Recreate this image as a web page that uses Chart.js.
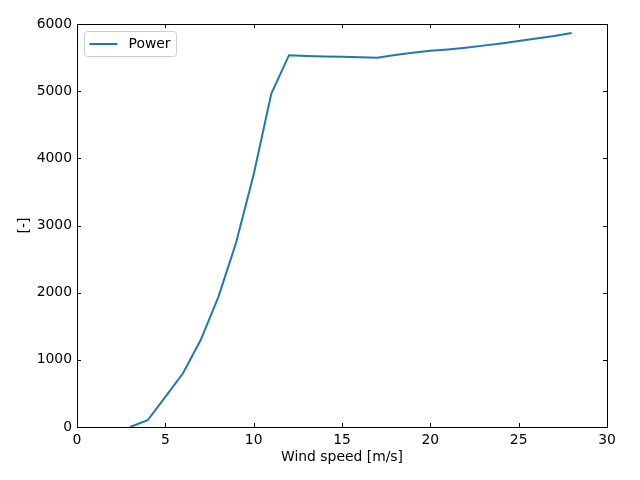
<!DOCTYPE html>
<html>
<head>
<meta charset="utf-8">
<script src="https://cdn.jsdelivr.net/npm/chart.js@4/dist/chart.umd.min.js"></script>
<style>
  html, body { margin: 0; padding: 0; background: #fff; }
  #wrap { width: 640px; height: 480px; }
</style>
</head>
<body>
<div id="wrap"><canvas id="grafico" width="640" height="480"></canvas></div>
<script>
const windSpeed = [3, 4, 5, 6, 7, 8, 9, 10, 11, 12, 13, 14, 15, 16, 17, 18, 19, 20, 21, 22, 23, 24, 25, 26, 27, 28];
const power = [0, 100, 450, 800, 1295, 1935, 2740, 3760, 4965, 5536, 5525, 5517, 5511, 5504, 5497, 5538, 5573, 5600, 5622, 5648, 5678, 5710, 5746, 5783, 5821, 5865];
const xTicks = [0, 5, 10, 15, 20, 25, 30];
const yTicks = [0, 1000, 2000, 3000, 4000, 5000, 6000];
const seriesName = 'Power';

const FONT = 'DejaVu Sans';
const BLUE = '#1f77b4';

// spines + inward ticks on every side, like matplotlib
const frame = {
  id: 'frame',
  afterDraw(chart) {
    const { ctx, chartArea: a, scales } = chart;
    ctx.save();
    ctx.strokeStyle = '#000';
    ctx.lineWidth = 1;
    ctx.beginPath();
    xTicks.forEach(v => {
      const px = Math.round(scales.x.getPixelForValue(v)) + 0.5;
      ctx.moveTo(px, a.bottom); ctx.lineTo(px, a.bottom - 4);
      ctx.moveTo(px, a.top); ctx.lineTo(px, a.top + 4);
    });
    yTicks.forEach(v => {
      const py = Math.round(scales.y.getPixelForValue(v)) + 0.5;
      ctx.moveTo(a.left, py); ctx.lineTo(a.left + 4, py);
      ctx.moveTo(a.right, py); ctx.lineTo(a.right - 4, py);
    });
    ctx.stroke();
    ctx.strokeRect(Math.round(a.left) + 0.5, Math.round(a.top) + 0.5,
      Math.round(a.right - a.left), Math.round(a.bottom - a.top));

    // legend box in the upper left
    const bx = a.left + 7.5, by = a.top + 7.5, bw = 92, bh = 25;
    ctx.fillStyle = 'rgba(255,255,255,0.8)';
    ctx.strokeStyle = '#cccccc';
    ctx.beginPath();
    ctx.roundRect(bx, by, bw, bh, 3);
    ctx.fill();
    ctx.stroke();
    ctx.strokeStyle = BLUE;
    ctx.lineWidth = 2;
    ctx.beginPath();
    ctx.moveTo(bx + 5, by + 12.5);
    ctx.lineTo(bx + 33, by + 12.5);
    ctx.stroke();
    ctx.fillStyle = '#000';
    ctx.font = '13.9px "' + FONT + '"';
    ctx.textBaseline = 'middle';
    ctx.fillText(seriesName, bx + 44, by + 13);
    ctx.restore();
  }
};

const plain = v => String(v);

new Chart(document.getElementById('grafico'), {
  type: 'scatter',
  data: {
    datasets: [{
      label: seriesName,
      data: windSpeed.map((w, i) => ({ x: w, y: power[i] })),
      showLine: true,
      borderColor: BLUE,
      backgroundColor: BLUE,
      borderWidth: 2,
      pointRadius: 0,
      tension: 0
    }]
  },
  options: {
    responsive: false,
    animation: false,
    layout: { padding: { left: 0, right: 33, top: 24, bottom: 0 } },
    plugins: { legend: { display: false }, tooltip: { enabled: false } },
    scales: {
      x: {
        type: 'linear',
        min: 0, max: 30,
        afterBuildTicks: s => { s.ticks = xTicks.map(v => ({ value: v })); },
        afterFit: s => { s.height = 53; },
        grid: { display: false, drawTicks: false },
        border: { display: false },
        ticks: { padding: 5, color: '#000', callback: plain, font: { family: FONT, size: 13.9 } },
        title: { display: true, text: 'Wind speed [m/s]', color: '#000', padding: { top: 0, bottom: 14 }, font: { family: FONT, size: 13.9 } }
      },
      y: {
        min: 0, max: 6000,
        afterBuildTicks: s => { s.ticks = yTicks.map(v => ({ value: v })); },
        afterFit: s => { s.width = 77; },
        grid: { display: false, drawTicks: false },
        border: { display: false },
        ticks: { padding: 5, color: '#000', callback: plain, font: { family: FONT, size: 13.9 } },
        title: { display: true, text: '[-]', color: '#000', padding: { top: 16, bottom: 0 }, font: { family: FONT, size: 13.9 } }
      }
    }
  },
  plugins: [frame]
});
</script>
</body>
</html>
